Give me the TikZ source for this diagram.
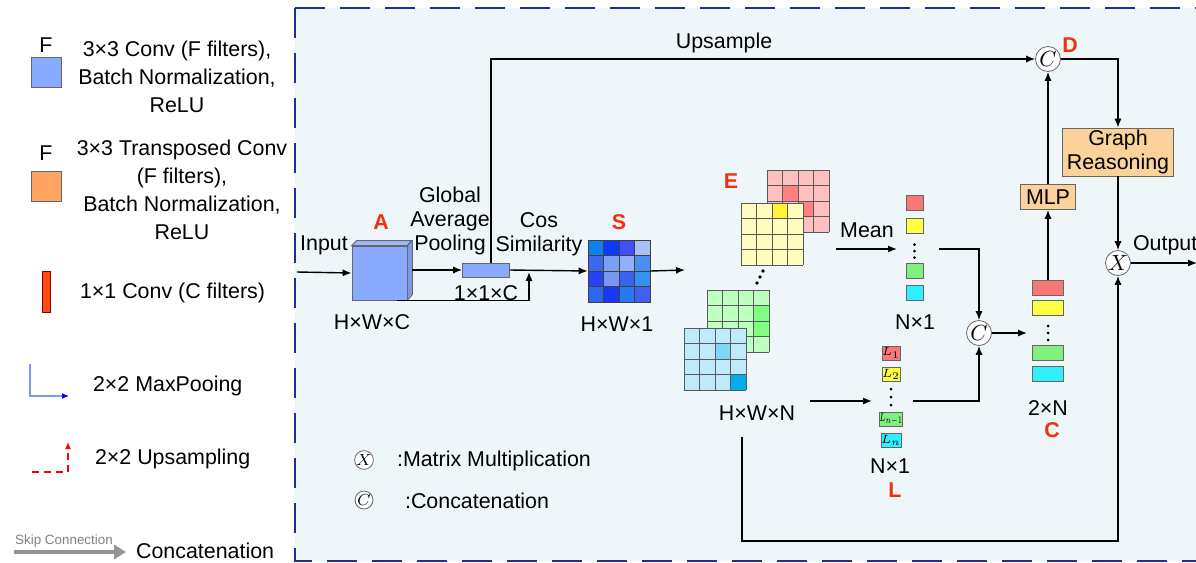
\documentclass[tikz,border=0pt]{standalone}
\usepackage{fontspec}
\setmainfont{Liberation Sans}
\usepackage{amsmath}
\usepackage{graphicx}
\usepackage{tikz}
\usetikzlibrary{arrows.meta,positioning}
\definecolor{panel}{HTML}{EEF6FA}
\definecolor{navy}{HTML}{1E2E9A}
\definecolor{convblue}{HTML}{88AAFF}
\definecolor{tconv}{HTML}{FFA463}
\definecolor{convred}{HTML}{FF4A12}
\definecolor{poolblue}{HTML}{7A9AF0}
\definecolor{mlpfill}{HTML}{FCD29B}
\definecolor{tagred}{HTML}{F2300C}
\definecolor{cellred}{HTML}{F87878}
\definecolor{cellyellow}{HTML}{FFFF44}
\definecolor{cellgreen}{HTML}{80F080}
\definecolor{cellcyan}{HTML}{30F0FF}
\newcommand{\diagfont}{\fontsize{10.7}{14}\selectfont}
\tikzstyle{op}=[circle,draw=gray!80!black,fill=white,minimum size=12.5pt,inner sep=0pt]
\tikzstyle{cell}=[draw=gray!80!black,minimum width=8.5pt,minimum height=7.5pt,inner sep=0pt]
\tikzstyle{lcell}=[cell,minimum width=9pt,minimum height=7pt,font=\fontsize{6.5}{6.5}\selectfont]
\tikzstyle{ccell}=[cell,minimum width=15.5pt]
\tikzstyle{tag}=[text=tagred,font=\diagfont\bfseries]
\tikzstyle{block}=[draw=gray!80!black,fill=mlpfill,inner sep=0pt]
\tikzstyle{tight}=[align=center,font=\fontsize{10.7}{12.2}\selectfont]
\tikzstyle{flow}=[-{Latex[length=4.5pt,width=3.6pt]},line width=0.7pt]
% 4x4 feature map: name, x, y, base colour, marked cells
\newcommand{\fmap}[5]{%
  \node[anchor=north west,fill=#4,minimum size=31pt,inner sep=0pt] (#1) at (#2,#3) {};
  \foreach \cx/\cy/\cc in {#5} \fill[\cc] (#2+15.5*\cx,#3+15.5*\cy) rectangle ++(15.5,15.5);
  \foreach \k in {0,...,4} {
    \draw[gray!70!black,line width=0.5pt] (#2+15.5*\k,#3) -- ++(0,62);
    \draw[gray!70!black,line width=0.5pt] (#2,#3+15.5*\k) -- ++(62,0);
  }
}
% three dots in a column: x, y, gap
\newcommand{\dotcol}[3]{%
  \foreach \d in {-1,0,1} \fill (#1,#2+#3*\d) circle (0.75pt);
}

\begin{document}
\begin{tikzpicture}[x=0.5pt,y=-0.5pt,font=\diagfont]
\useasboundingbox (0,0) rectangle (1196,563);
\fill[white] (0,0) rectangle (1196,563);
\fill[panel] (295,8) rectangle (1196,561);
\draw[navy,line width=1.2pt,dash pattern=on 15pt off 7.5pt] (295,8) -- (1196,8);
\draw[navy,line width=1.2pt,dash pattern=on 15pt off 7.5pt] (295,8) -- (295,561) -- (1196,561);

% legend
\node (f1) at (46,45) {F};
\node[draw=gray!80!black,fill=convblue,minimum size=15pt,inner sep=0pt] (convkey) at (46,72) {};
\node[align=center] (convtext) at (177,77) {3×3 Conv (F filters),\\Batch Normalization,\\ReLU};
\node (f2) at (46,153) {F};
\node[draw=gray!80!black,fill=tconv,minimum size=15pt,inner sep=0pt] (tconvkey) at (46,186) {};
\node[align=center] (tconvtext) at (182,190) {3×3 Transposed Conv\\(F filters),\\Batch Normalization,\\ReLU};
\node[draw=red!50!black,fill=convred,minimum width=4pt,minimum height=20.5pt,inner sep=0pt] (onekey) at (46,292) {};
\node[anchor=west] (onetext) at (73,293) {1×1 Conv (C filters)};
\draw[poolblue,line width=0.6pt,-{Latex[length=3.5pt,width=3pt,color=blue]}] (30,364) -- (30,396) -- (69,396);
\node[anchor=west] (pooltext) at (86,386) {2×2 MaxPooing};
\draw[red,line width=0.7pt,dash pattern=on 3.5pt off 2.5pt,-{Latex[length=3.5pt,width=3pt]}] (32,472) -- (68,472) -- (68,442);
\node[anchor=west] (uptext) at (88,459) {2×2 Upsampling};
\draw[gray!85,line width=2pt,-{Triangle[length=6pt,width=7pt]}] (14,552) -- (126,552);
\node[text=gray,font=\fontsize{6.7}{8}\selectfont] (skiptext) at (64,541) {Skip Connection};
\node[anchor=west] (cattext) at (129,551) {Concatenation};

% input and cube A
\coordinate (in) at (297,272);
\node[draw=gray!80!black,fill=convblue,minimum width=27.5pt,minimum height=27pt,inner sep=0pt] (A) at (379.5,273) {};
\draw[draw=gray!80!black,fill=convblue!85!white] (A.north west) -- ++(5,-5) -- ++(55,0) -- (A.north east) -- cycle;
\draw[draw=gray!80!black,fill=convblue!90!black] (A.north east) -- ++(5,-5) -- ++(0,54) -- (A.south east) -- cycle;
\node (input) at (324,245) {Input};
\node[tag] (atag) at (381,222) {A};
\node (hwc) at (372,322) {H×W×C};

% pooling and similarity
\node[draw=gray!80!black,fill=convblue,minimum width=23.5pt,minimum height=7pt,inner sep=0pt] (gap) at (486,270) {};
\node[tight] (gaptext) at (450,221) {Global\\Average\\Pooling};
\node (onebyone) at (486,293) {1×1×C};
\node[tight] (costext) at (539,234) {Cos\\Similarity};
\node[minimum size=31pt,inner sep=0pt] (S) at (619,271) {};
\foreach \cx/\cy/\hex in {0/0/1080F0,1/0/0A3CF8,2/0/4050F8,3/0/A8C0F8,
                         0/1/3A68F0,1/1/78A0F8,2/1/90B0F8,3/1/4890F0,
                         0/2/2840F8,1/2/7898F8,2/2/3A60F0,3/2/3890F0,
                         0/3/2A68F0,1/3/1838F8,2/3/2878F0,3/3/4060F0}
  {\definecolor{scell}{HTML}{\hex}
   \draw[fill=scell,draw=gray!50!black,line width=0.5pt] (588+15.5*\cx,240+15.5*\cy) rectangle ++(15.5,15.5);}
\node[tag] (stag) at (619,222) {S};
\node (hw1) at (617,324) {H×W×1};

% feature maps E
\fmap{redmap}{767}{170}{red!25}{1/1/red!50,2/2/red!50}
\fmap{yellowmap}{741}{203}{yellow!25}{2/0/yellow!80}
\fill (763,271) circle (0.9pt) (760,277) circle (0.9pt) (757,283) circle (0.9pt);
\fmap{greenmap}{707}{290}{green!25}{3/1/green!50,3/2/green!50}
\fmap{cyanmap}{684}{328}{cyan!25}{2/1/cyan!50,3/3/cyan}
\node[tag] (etag) at (731,181) {E};
\node (hwn) at (757,413) {H×W×N};

% mean vector
\node (meanlabel) at (867,230) {Mean};
\node[cell,fill=cellred] (m1) at (914.5,202.5) {};
\node[cell,fill=cellyellow] (m2) at (914.5,225.5) {};
\dotcol{914.5}{251}{6.5}
\node[cell,fill=cellgreen] (m3) at (914.5,271) {};
\node[cell,fill=cellcyan] (m4) at (914.5,293) {};
\node (mdim) at (915,322) {N×1};

% vector L
\node[lcell,fill=cellred] (l1) at (891,353) {$L_1$};
\node[lcell,fill=cellyellow] (l2) at (891,374.5) {$L_2$};
\dotcol{891}{397}{8}
\node[lcell,fill=cellgreen] (l3) at (891,419) {\scalebox{0.62}[1]{$L_{n-1}$}};
\node[lcell,fill=cellcyan] (l4) at (891,440.5) {$L_n$};
\node (ldim) at (890,466) {N×1};
\node[tag] (ltag) at (895,490) {L};

% vector C
\node[op] (cat) at (979,333) {$C$};
\node[ccell,fill=cellred] (c1) at (1048,288) {};
\node[ccell,fill=cellyellow] (c2) at (1048,308) {};
\dotcol{1048}{333}{7}
\node[ccell,fill=cellgreen] (c3) at (1048,353) {};
\node[ccell,fill=cellcyan] (c4) at (1048,374) {};
\node (cdim) at (1048,408) {2×N};
\node[tag] (ctag) at (1052,430) {C};

% reasoning head
\node[block,minimum width=27.5pt,minimum height=12.5pt] (mlp) at (1048,197) {MLP};
\node[op] (D) at (1048,59) {$C$};
\node[tag] (dtag) at (1070,45) {D};
\node[block,tight,minimum width=55.5pt,minimum height=24pt] (gr) at (1118,152) {Graph\\Reasoning};
\node[op] (X) at (1118,263) {$X$};
\node[anchor=west] (output) at (1126,245) {Output};
\node (upsample) at (724,43) {Upsample};

% key
\node[op,minimum size=9pt,font=\footnotesize] (xkey) at (364,460) {$X$};
\node[anchor=west] (xkeytext) at (390,461) {:Matrix Multiplication};
\node[op,minimum size=9pt,font=\footnotesize] (ckey) at (364,500) {$C$};
\node[anchor=west] (ckeytext) at (398,501) {:Concatenation};

% connectors
\coordinate (aout) at (412,270);
\coordinate (skipup) at (529,272);
\coordinate (sout) at (685,270);
\coordinate (meanin) at (836,249);
\coordinate (meanend) at (897,249);
\coordinate (meanout) at (939,249);
\coordinate (lin) at (810,401);
\coordinate (lend) at (872,401);
\coordinate (lout) at (913,401);
\coordinate (cend) at (1027,333);
\coordinate (outend) at (1197,263);
\coordinate (loopstart) at (742,437);
\draw[flow] (in) -- (A.west);
\draw[flow] (aout) -- (gap.west);
\draw[flow] (gap.east) -- (S.west);
\draw[flow] ([xshift=8.75pt]A.south) -| (skipup);
\draw[flow] (S.east) -- (sout);
\draw[flow] ([xshift=2.5pt]gap.north) |- (D.west);
\draw[flow] (meanin) -- (meanend);
\draw[flow] (meanout) -| (cat.north);
\draw[flow] (lin) -- (lend);
\draw[flow] (lout) -| (cat.south);
\draw[flow] (cat.east) -- (cend);
\draw[flow] (c1.north) -- (mlp.south);
\draw[flow] (mlp.north) -- (D.south);
\draw[flow] (D.east) -| (gr.north);
\draw[flow] (gr.south) -- (X.north);
\draw[flow] (X.east) -- (outend);
\draw[flow] (loopstart) -- ++(0,104) -| (X.south);
\end{tikzpicture}
\end{document}
